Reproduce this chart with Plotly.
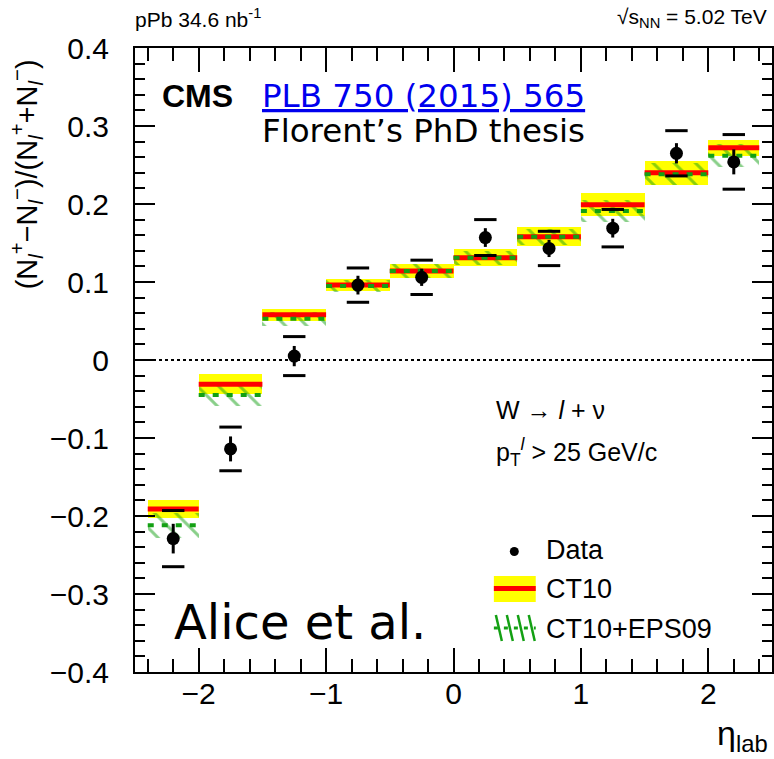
import plotly.graph_objects as go

# ---------------- data ----------------
bin_lo = [-2.4, -2.0, -1.5, -1.0, -0.5, 0.0, 0.5, 1.0, 1.5, 2.0]
bin_hi = [-2.0, -1.5, -1.0, -0.5, 0.0, 0.5, 1.0, 1.5, 2.0, 2.4]

data_x = [-2.2, -1.75, -1.25, -0.75, -0.25, 0.25, 0.75, 1.25, 1.75, 2.2]
data_y = [-0.229, -0.114, 0.005, 0.096, 0.106, 0.157, 0.143, 0.169, 0.265, 0.254]
data_stat = [0.019, 0.016, 0.013, 0.012, 0.011, 0.012, 0.011, 0.012, 0.013, 0.016]
data_tot = [0.036, 0.028, 0.025, 0.022, 0.022, 0.023, 0.022, 0.024, 0.029, 0.035]

ct10_c = [-0.191, -0.031, 0.058, 0.096, 0.114, 0.131, 0.158, 0.199, 0.240, 0.272]
ct10_e = [0.012, 0.013, 0.008, 0.008, 0.009, 0.011, 0.012, 0.015, 0.015, 0.010]

eps_c = [-0.212, -0.045, 0.053, 0.095, 0.114, 0.131, 0.158, 0.191, 0.238, 0.262]
eps_e = [0.016, 0.014, 0.009, 0.008, 0.009, 0.009, 0.010, 0.014, 0.014, 0.015]

# ---------------- helpers ----------------
W, H = 774, 759
ML, MR, MT, MB = 135, 0, 48, 87
PW, PH = W - ML - MR, H - MT - MB


def px(x):
    return (x - ML) / PW


def py(y):
    return (H - MB - y) / PH


centers = [(a + b) / 2 for a, b in zip(bin_lo, bin_hi)]
widths = [b - a for a, b in zip(bin_lo, bin_hi)]

GREEN = "#13a013"
FONT = "Liberation Sans, Arial, sans-serif"
VFONT = "DejaVu Sans, Verdana, sans-serif"

fig = go.Figure()

# CT10 yellow band
fig.add_trace(go.Bar(
    x=centers, width=widths,
    base=[c - e for c, e in zip(ct10_c, ct10_e)],
    y=[2 * e for e in ct10_e],
    marker=dict(color="#FFFF00", line=dict(width=0)),
    showlegend=False, hoverinfo="skip"))

# CT10 red central line
lx, ly = [], []
for a, b, c in zip(bin_lo, bin_hi, ct10_c):
    lx += [a, b, None]
    ly += [c, c, None]
fig.add_trace(go.Scatter(x=lx, y=ly, mode="lines",
                         line=dict(color="#FF0000", width=5),
                         showlegend=False, hoverinfo="skip"))

# CT10+EPS09 hatched band
fig.add_trace(go.Bar(
    x=centers, width=widths,
    base=[c - e for c, e in zip(eps_c, eps_e)],
    y=[2 * e for e in eps_e],
    marker=dict(color="rgba(0,0,0,0)", line=dict(width=0),
                pattern=dict(shape="\\", fgcolor=GREEN, size=15,
                             solidity=0.2, fillmode="overlay")),
    showlegend=False, hoverinfo="skip"))

# EPS09 dashed central line
ex, ey = [], []
for a, b, c in zip(bin_lo, bin_hi, eps_c):
    ex += [a, b, None]
    ey += [c, c, None]
fig.add_trace(go.Scatter(x=ex, y=ey, mode="lines",
                         line=dict(color=GREEN, width=4, dash="6px,8px"),
                         showlegend=False, hoverinfo="skip"))

# systematic caps
fig.add_trace(go.Scatter(
    x=data_x + data_x,
    y=[v + t for v, t in zip(data_y, data_tot)] + [v - t for v, t in zip(data_y, data_tot)],
    mode="markers",
    marker=dict(symbol="line-ew", size=16, line=dict(color="black", width=3)),
    showlegend=False, hoverinfo="skip"))

# data points with stat errors
fig.add_trace(go.Scatter(
    x=data_x, y=data_y, mode="markers",
    marker=dict(color="black", size=13),
    error_y=dict(type="data", array=data_stat, color="black", thickness=3, width=0),
    showlegend=False))

# zero line
fig.add_shape(type="line", xref="paper", yref="y", x0=0, x1=1, y0=0, y1=0,
              line=dict(color="black", width=2, dash="dot"))

# ---------------- legend (manual) ----------------
fig.add_shape(type="circle", xref="paper", yref="paper",
              x0=px(511), x1=px(520), y0=py(547), y1=py(556),
              fillcolor="black", line=dict(width=0))
fig.add_shape(type="rect", xref="paper", yref="paper",
              x0=px(495), x1=px(537), y0=py(576), y1=py(602),
              fillcolor="#FFFF00", line=dict(width=0))
fig.add_shape(type="line", xref="paper", yref="paper",
              x0=px(495), x1=px(537), y0=py(588.5), y1=py(588.5),
              line=dict(color="#FF0000", width=5))
for xs in [497, 508, 519, 530]:
    fig.add_shape(type="line", xref="paper", yref="paper",
                  x0=px(xs), x1=px(xs + 6), y0=py(615), y1=py(641),
                  line=dict(color=GREEN, width=2.5))
fig.add_shape(type="line", xref="paper", yref="paper",
              x0=px(495), x1=px(537), y0=py(628), y1=py(628),
              line=dict(color=GREEN, width=3, dash="4px,6px"))

ann = []


def add_text(text, x, y, size, font=FONT, xanchor="left", color="black", angle=0):
    ann.append(dict(text=text, x=px(x), y=py(y), xref="paper", yref="paper",
                    xanchor=xanchor, yanchor="middle", showarrow=False,
                    textangle=angle,
                    font=dict(family=font, size=size, color=color)))


add_text("Data", 545, 550, 27)
add_text("CT10", 545, 589, 27)
add_text("CT10+EPS09", 545, 629, 27)
add_text("W → <i>l</i> + ν", 495, 410, 25)
add_text("p<sub>T</sub><sup><i>l</i></sup> > 25 GeV/c", 495, 452, 25)

add_text("pPb 34.6 nb<sup>-1</sup>", 133, 18, 21)
add_text("√s<sub>NN</sub> = 5.02 TeV", 771, 18, 21, xanchor="right")
add_text("<b>CMS</b>", 160, 96, 32)
add_text('<a href="https://doi.org/10.1016/j.physletb.2015.09.057" style="color:#0000EE"><u>PLB 750 (2015) 565</u></a>',
         260, 96, 32.5, font=VFONT, color="#0000EE")
add_text("Florent’s PhD thesis", 260, 131, 32.5, font=VFONT)
add_text("Alice et al.", 172, 622, 48, font=VFONT)

add_text("η<sub>lab</sub>", 772, 735, 34, xanchor="right")
add_text("(N<sub><i>l</i></sub><sup>+</sup>−N<sub><i>l</i></sub><sup>−</sup>)/(N<sub><i>l</i></sub><sup>+</sup>+N<sub><i>l</i></sub><sup>−</sup>)",
         26, 174, 29, xanchor="center", angle=-90)

fig.update_layout(
    width=W, height=H,
    margin=dict(l=ML, r=MR, t=MT, b=MB, pad=0),
    paper_bgcolor="white", plot_bgcolor="white",
    barmode="overlay", bargap=0,
    annotations=ann,
    showlegend=False,
    xaxis=dict(range=[-2.5, 2.5], tickmode="linear", tick0=0, dtick=1,
               ticks="inside", ticklen=24, tickwidth=2, tickcolor="black",
               minor=dict(dtick=0.2, tick0=0, ticks="inside", ticklen=13,
                          tickwidth=2, tickcolor="black", showgrid=False),
               showline=True, linewidth=2, linecolor="black", mirror="allticks",
               showgrid=False, zeroline=False,
               tickfont=dict(family=FONT, size=30, color="black"),
               ticklabelstandoff=-6),
    yaxis=dict(range=[-0.4, 0.4], tickmode="linear", tick0=0, dtick=0.1,
               ticks="inside", ticklen=20, tickwidth=2, tickcolor="black",
               minor=dict(dtick=0.02, tick0=0, ticks="inside", ticklen=10,
                          tickwidth=2, tickcolor="black", showgrid=False),
               showline=True, linewidth=2, linecolor="black", mirror="allticks",
               showgrid=False, zeroline=False,
               tickfont=dict(family=FONT, size=30, color="black"),
               ticklabelstandoff=18),
)

fig.write_html("out.html")
